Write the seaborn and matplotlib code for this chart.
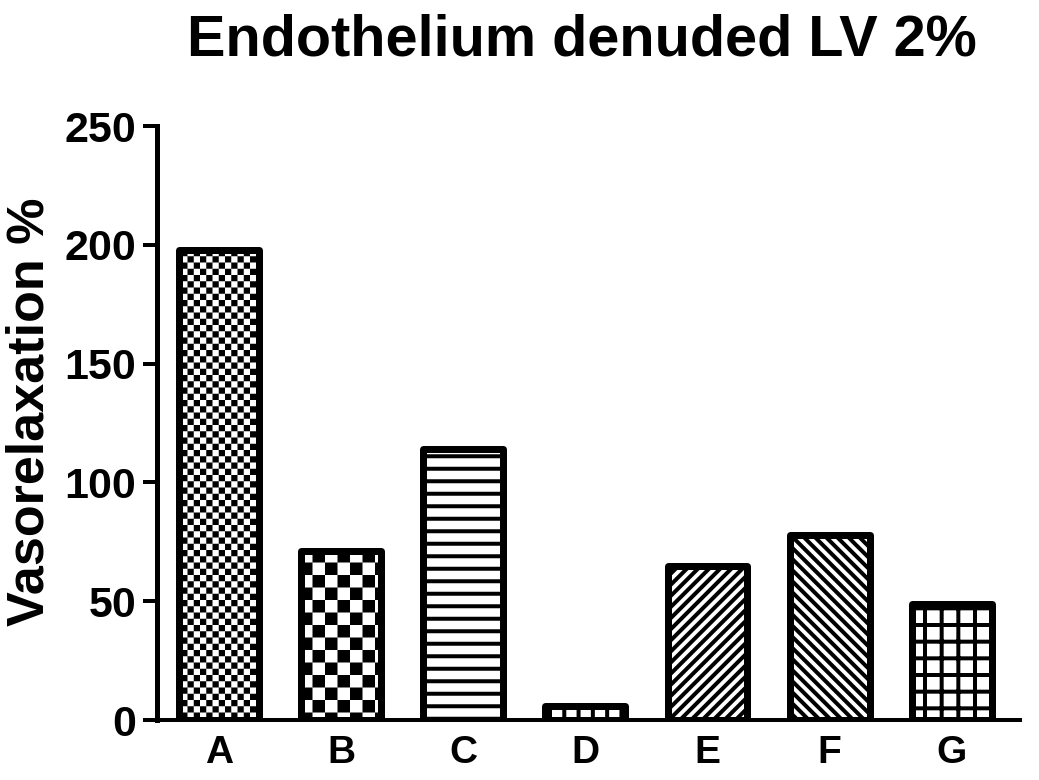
import warnings
warnings.filterwarnings("ignore")
import numpy as np
import matplotlib
matplotlib.use("Agg")
import matplotlib.pyplot as plt
import matplotlib.hatch as mhatch
from matplotlib.path import Path
import seaborn as sns

# ---- data ----
categories = ["A", "B", "C", "D", "E", "F", "G"]
values = [198, 71, 114, 6, 65, 78, 49]
yticks = [0, 50, 100, 150, 200, 250]
title = "Endothelium denuded LV 2%"
ylabel = "Vasorelaxation %"

DPI = 100
HATCH_LW_PX = 4.0


class CustomHatch(mhatch.HatchPatternBase):
    """h: horizontal, n: north-east, s: south-east, g: grid, c: checker."""

    def __init__(self, hatch, density):
        verts, codes = [], []
        nh = hatch.count("h")
        nn = hatch.count("n")
        ns = hatch.count("s")
        ng = hatch.count("g")
        nc = hatch.count("c")

        def line(p0, p1):
            verts.extend([p0, p1])
            codes.extend([Path.MOVETO, Path.LINETO])

        for i in range(nh):
            y = (i + 0.5) / nh
            line((0, y), (1, y))
        if nn:
            for i in range(-nn, nn + 1):
                o = i / nn
                line((o, 0), (o + 1, 1))
        if ns:
            for i in range(-ns, ns + 1):
                o = i / ns
                line((o, 1), (o + 1, 0))
        for i in range(ng):
            t = (i + 0.5) / ng
            line((0, t), (1, t))
            line((t, 0), (t, 1))
        if nc:
            p = 1.0 / nc
            inset = HATCH_LW_PX / DPI / 2
            s = p / 2
            for i in range(nc):
                for j in range(nc):
                    for (x0, y0) in ((i * p, j * p), (i * p + s, j * p + s)):
                        a, b = x0 + inset, y0 + inset
                        c, d = x0 + s - inset, y0 + s - inset
                        verts.extend([(a, b), (c, b), (c, d), (a, d), (a, b)])
                        codes.extend([Path.MOVETO, Path.LINETO, Path.LINETO,
                                      Path.LINETO, Path.CLOSEPOLY])
        self._v = np.array(verts, dtype=float).reshape(-1, 2)
        self._c = np.array(codes, dtype=Path.code_type)
        self.num_vertices = len(self._v)

    def set_vertices_and_codes(self, vertices, codes):
        vertices[:] = self._v
        codes[:] = self._c


mhatch._hatch_types.append(CustomHatch)

hatches = ["c" * 8, "c" * 4, "h" * 8, "g" * 7, "n" * 9, "s" * 9, "g" * 6]

sns.set_style("ticks")
plt.rcParams["font.family"] = ["Liberation Sans", "DejaVu Sans"]
plt.rcParams["font.weight"] = "bold"
plt.rcParams["text.color"] = "black"
plt.rcParams["axes.labelcolor"] = "black"
plt.rcParams["xtick.color"] = "black"
plt.rcParams["ytick.color"] = "black"
plt.rcParams["xtick.labelcolor"] = "black"
plt.rcParams["ytick.labelcolor"] = "black"
plt.rcParams["hatch.linewidth"] = HATCH_LW_PX * 72 / DPI
plt.rcParams["hatch.color"] = "black"

W, H = 1039, 780
fig = plt.figure(figsize=(W / DPI, H / DPI), dpi=DPI)
fig.patch.set_facecolor("white")
ax = fig.add_axes([157 / W, 1 - 720 / H, (1020 - 157) / W, (720 - 126) / H])

px = 72 / DPI
sns.barplot(x=categories, y=values, color="white", saturation=1,
            edgecolor="black", linewidth=7 * px, width=0.655, ax=ax,
            errorbar=None)

for patch, h in zip(ax.patches, hatches):
    patch.set_hatch(h)
    patch.set_joinstyle("round")
    patch.set_facecolor("white")
    patch.set_edgecolor("black")
    if hasattr(patch, "set_hatch_linewidth"):
        patch.set_hatch_linewidth(HATCH_LW_PX * px)

ax.set_xlim(-0.51, 6.56)
ax.set_ylim(0, 250)
ax.set_yticks(yticks)
ax.set_yticklabels([str(t) for t in yticks], fontsize=31, fontweight="bold",
                   color="black")
ax.set_xticks(range(len(categories)))
ax.set_xticklabels(categories, fontsize=28, fontweight="bold", color="black")
ax.tick_params(axis="y", direction="out", length=14 * px, width=4 * px,
               pad=7 * px, color="black")
ax.tick_params(axis="x", length=0, pad=15 * px)
ax.set_xlabel("")
ax.set_ylabel("")
for side in ("top", "right"):
    ax.spines[side].set_visible(False)
ax.spines["left"].set_linewidth(5 * px)
ax.spines["bottom"].set_linewidth(4 * px)
ax.spines["left"].set_color("black")
ax.spines["bottom"].set_color("black")
ax.set_facecolor("white")

fig.text(581.5 / W, 1 - 55 / H, title, ha="center", va="baseline",
         fontsize=41.5, fontweight="bold", color="black")
fig.text(30 / W, 1 - 412 / H, ylabel, rotation=90, ha="center", va="center",
         fontsize=37.5, fontweight="bold", color="black")

fig.savefig("out.png", dpi=DPI, facecolor="white")
